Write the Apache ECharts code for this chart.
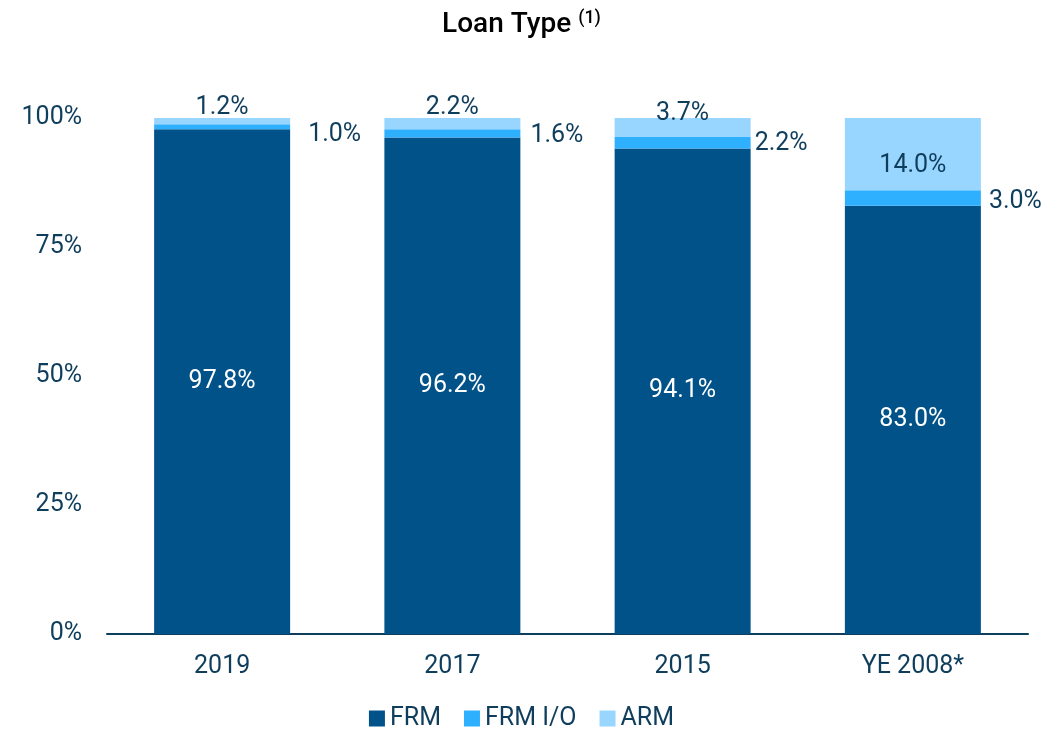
<!DOCTYPE html>
<html>
<head>
<meta charset="utf-8">
<script src="https://cdn.jsdelivr.net/npm/echarts@6/dist/echarts.min.js"></script>
<style>
  html, body { margin: 0; padding: 0; background: #fff; }
  #chart { width: 1043px; height: 735px; }
</style>
</head>
<body>
<div id="chart"></div>
<script>
var categories = ['2019', '2017', '2015', 'YE 2008*'];
var frm = [97.8, 96.2, 94.1, 83.0];
var frmIO = [1.0, 1.6, 2.2, 3.0];
var arm = [1.2, 2.2, 3.7, 14.0];
var yTicks = [0, 25, 50, 75, 100];

var textColor = '#0f3d5c';
var fontFam = 'Roboto, "Liberation Sans", sans-serif';
var fs = 25;

// 标签位置微调
var ioDist = [18, 10, 4, 8];
var ioOff = [[0, 8], [0, 2], [0, 1], [0, 4]];
var armPos = ['top', 'top', 'top', 'inside'];
var armOff = [[0, 2], [0, 2], [0, 8], [0, 12]];

function fmt(v) { return v.toFixed(1) + '%'; }

var myChart = echarts.init(document.getElementById('chart'));
var option = {
    title: {
        text: '{t|Loan Type }{s|(1)}',
        left: 'center',
        top: 4,
        textStyle: {
            rich: {
                t: { fontSize: 28, fontWeight: 500, color: '#000', fontFamily: fontFam, verticalAlign: 'bottom' },
                s: { fontSize: 18, fontWeight: 500, color: '#000', fontFamily: fontFam, verticalAlign: 'top', padding: [0, 0, 12, 0] }
            }
        }
    },
    legend: {
        top: 706,
        left: 'center',
        padding: 0,
        itemWidth: 16,
        itemHeight: 16,
        itemGap: 23,
        icon: 'rect',
        textStyle: { color: textColor, fontSize: fs, fontFamily: fontFam },
        data: ['FRM', 'FRM I/O', 'ARM']
    },
    grid: { left: 107, right: 15, top: 118, bottom: 101 },
    xAxis: {
        type: 'category',
        data: categories,
        axisLine: { show: true, lineStyle: { color: '#0f3d5c', width: 2 } },
        axisTick: { show: false },
        axisLabel: { color: textColor, fontSize: fs, margin: 20, fontFamily: fontFam }
    },
    yAxis: {
        type: 'value',
        min: 0,
        max: 100,
        interval: 25,
        splitLine: { show: false },
        axisLine: { show: false },
        axisTick: { show: false },
        axisLabel: {
            color: textColor, fontSize: fs, margin: 25, fontFamily: fontFam,
            formatter: function (v) { return yTicks.indexOf(v) >= 0 ? v + '%' : ''; }
        }
    },
    series: [
        {
            name: 'FRM', type: 'bar', stack: 'a', barWidth: 136,
            itemStyle: { color: '#005288' },
            label: { show: true, position: 'inside', color: '#fff', fontSize: fs, fontFamily: fontFam,
                formatter: function (p) { return fmt(p.value); } },
            data: frm
        },
        {
            name: 'FRM I/O', type: 'bar', stack: 'a', barWidth: 136,
            itemStyle: { color: '#2eb0ff' },
            data: frmIO.map(function (v, i) {
                return { value: v, label: { show: true, position: 'right', distance: ioDist[i], offset: ioOff[i] } };
            }),
            label: { color: textColor, fontSize: fs, fontFamily: fontFam,
                formatter: function (p) { return fmt(p.value); } }
        },
        {
            name: 'ARM', type: 'bar', stack: 'a', barWidth: 136,
            itemStyle: { color: '#99d6ff' },
            data: arm.map(function (v, i) {
                return { value: v, label: { show: true, position: armPos[i], offset: armOff[i], distance: 0 } };
            }),
            label: { color: textColor, fontSize: fs, fontFamily: fontFam,
                formatter: function (p) { return fmt(p.value); } }
        }
    ]
};
myChart.setOption(option);
</script>
</body>
</html>
